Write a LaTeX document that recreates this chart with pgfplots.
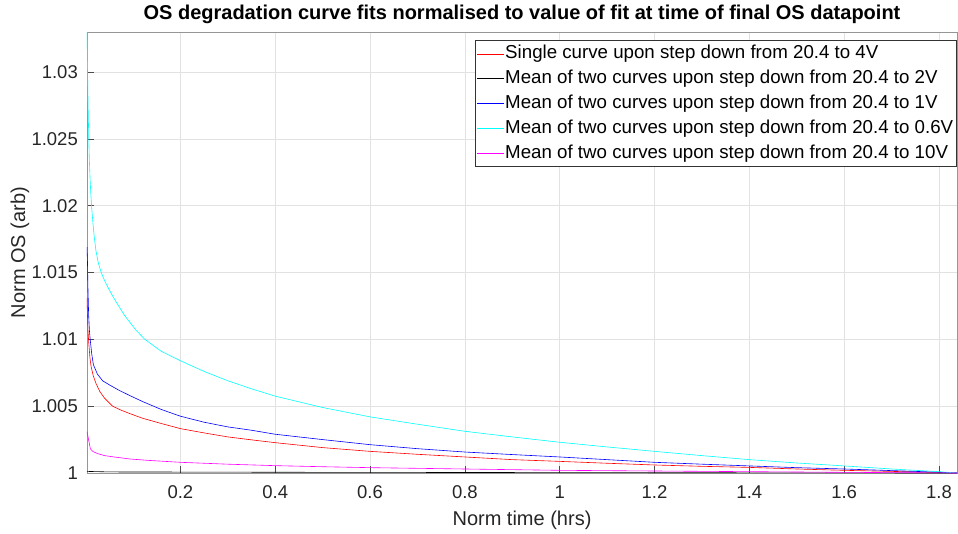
\documentclass[border=0pt]{standalone}
\usepackage{fontspec}
\setmainfont{Liberation Sans}
\usepackage{pgfplots}
\pgfplotsset{compat=1.18}
\definecolor{gridc}{RGB}{226,226,226}
\definecolor{axc}{RGB}{150,150,150}
\definecolor{cR}{RGB}{255,0,0}
\definecolor{cK}{RGB}{0,0,0}
\definecolor{cB}{RGB}{0,0,255}
\definecolor{cC}{RGB}{0,255,255}
\definecolor{cM}{RGB}{255,0,255}
\begin{document}
\begin{tikzpicture}
\path[use as bounding box] (-87pt,-60pt) rectangle (871pt,473pt);
\begin{axis}[
  scale only axis, width=870pt, height=441pt,
  xmin=0.003, xmax=1.838, ymin=1, ymax=1.033,
  xtick={0.2,0.4,0.6,0.8,1,1.2,1.4,1.6,1.8},
  xticklabels={0.2,0.4,0.6,0.8,1,1.2,1.4,1.6,1.8},
  ytick={1,1.005,1.01,1.015,1.02,1.025,1.03},
  yticklabels={1,1.005,1.01,1.015,1.02,1.025,1.03},
  scaled x ticks=false, scaled y ticks=false,
  xtick pos=lower, ytick pos=left,
  tick align=inside, major tick length=7pt,
  tick style={black!70, line width=0.5pt},
  axis line style={axc, line width=0.6pt},
  grid=major, grid style={gridc, line width=0.5pt},
  tick label style={font=\fontsize{18.5}{22}\selectfont, text=black!85},
  xticklabel style={anchor=north, inner sep=0pt, yshift=-12.4pt},
  yticklabel style={anchor=east, inner sep=0pt, xshift=-9pt},
  xlabel={Norm time (hrs)}, ylabel={Norm OS (arb)},
  label style={font=\fontsize{20}{24}\selectfont, text=black!85},
  x label style={at={(axis description cs:0.5,0)}, anchor=center, yshift=-47pt},
  y label style={at={(axis description cs:-0.077,0.5)}, anchor=center},
  title={OS degradation curve fits normalised to value of fit at time of final OS datapoint},
  title style={at={(axis description cs:0.5,1)}, anchor=center, yshift=12pt, font=\bfseries\fontsize{20}{24}\selectfont},
  legend cell align=left,
  legend image code/.code={\draw[#1] (0pt,0pt) -- (27pt,0pt);},
  legend style={at={(rel axis cs:1,1)}, anchor=north east, xshift=-1pt, yshift=-8pt,
    draw=black!80, line width=0.5pt, fill=white,
    font=\fontsize{18.7}{22}\selectfont,
    inner xsep=1.5pt, inner ysep=1.2pt, row sep=0pt,
    nodes={inner xsep=1pt, inner ysep=2.4pt, text height=15pt, text depth=5pt}},
  every axis plot/.append style={line width=0.6pt},
]
\addplot[cR] coordinates {
(0.003,1.0131)(0.0040,1.0118)(0.0050,1.0107)(0.0066,1.0098)(0.0090,1.0087)
(0.0115,1.0080)(0.0160,1.0073)(0.0220,1.0067)(0.0300,1.0061)(0.0400,1.0056)
(0.0570,1.0050)(0.0750,1.0047)(0.0930,1.00445)(0.1200,1.0041)(0.1600,1.0037)
(0.2000,1.00332)(0.25,1.0030)(0.3,1.0027)(0.35,1.00248)(0.4,1.00227)
(0.5,1.0019)(0.6,1.00162)(0.7,1.0014)(0.8,1.0012)(0.9,1.0010)(1.0,1.00087)
(1.1,1.00073)(1.2,1.0006)(1.3,1.0005)(1.4,1.00042)(1.5,1.0003)(1.6,1.0002)
(1.7,1.00012)(1.8,1.00004)(1.838,1.0)};
\addlegendentry{Single curve upon step down from 20.4 to 4V}
\addplot[cK] coordinates {
(0.003,1.00012)(0.05,1.00008)(0.5,1.00005)(1.0,1.00003)(1.5,1.00001)(1.838,1.0)};
\addlegendentry{Mean of two curves upon step down from 20.4 to 2V}
\addplot[cB] coordinates {
(0.003,1.0169)(0.0040,1.0158)(0.0050,1.0138)(0.0065,1.0118)(0.0080,1.0107)
(0.0100,1.0099)(0.0130,1.0089)(0.0165,1.0081)(0.0250,1.0074)(0.0360,1.0069)
(0.0500,1.0066)(0.0700,1.0062)(0.0930,1.0058)(0.1200,1.00535)(0.1600,1.00475)
(0.2,1.00425)(0.25,1.0038)(0.3,1.00345)(0.35,1.0032)(0.4,1.0029)(0.5,1.0025)
(0.6,1.00212)(0.7,1.00182)(0.8,1.00157)(0.9,1.00138)(1.0,1.0012)(1.1,1.0010)
(1.2,1.0008)(1.3,1.00066)(1.4,1.00053)(1.5,1.0004)(1.6,1.0003)(1.7,1.00018)
(1.8,1.00006)(1.838,1.0)};
\addlegendentry{Mean of two curves upon step down from 20.4 to 1V}
\addplot[cC] coordinates {
(0.003,1.0338)(0.0036,1.0318)(0.0043,1.0298)(0.0050,1.0282)(0.0058,1.0266)
(0.0068,1.0250)(0.0080,1.0234)(0.0095,1.0220)(0.0112,1.0208)(0.0130,1.0198)
(0.0155,1.0187)(0.0185,1.0176)(0.0220,1.0166)(0.0270,1.0157)(0.0330,1.0150)
(0.0400,1.0144)(0.0500,1.0137)(0.0610,1.0130)(0.0820,1.0118)(0.1060,1.0107)
(0.1250,1.0100)(0.1600,1.0091)(0.2000,1.0084)(0.2500,1.0076)(0.3000,1.0069)
(0.3500,1.0063)(0.4000,1.00575)(0.5000,1.0049)(0.6000,1.0042)(0.7000,1.00365)
(0.8000,1.00312)(0.9000,1.0027)(1.0000,1.0023)(1.1000,1.00195)(1.2000,1.00162)
(1.3000,1.0013)(1.4000,1.0010)(1.5000,1.00075)(1.6000,1.00053)(1.7000,1.0003)
(1.8000,1.0001)(1.8380,1.0000)};
\addlegendentry{Mean of two curves upon step down from 20.4 to 0.6V}
\addplot[cM] coordinates {
(0.003,1.0031)(0.0102,1.0018)(0.0160,1.0016)(0.0256,1.00145)(0.04,1.0013)
(0.06,1.0012)(0.093,1.00105)(0.13,1.00095)(0.2,1.0008)(0.3,1.00066)(0.4,1.00055)
(0.5,1.00047)(0.6,1.0004)(0.8,1.0003)(1.0,1.0002)(1.2,1.00015)(1.4,1.0001)
(1.6,1.00005)(1.838,1.0)};
\addlegendentry{Mean of two curves upon step down from 20.4 to 10V}
\end{axis}
\end{tikzpicture}
\end{document}
